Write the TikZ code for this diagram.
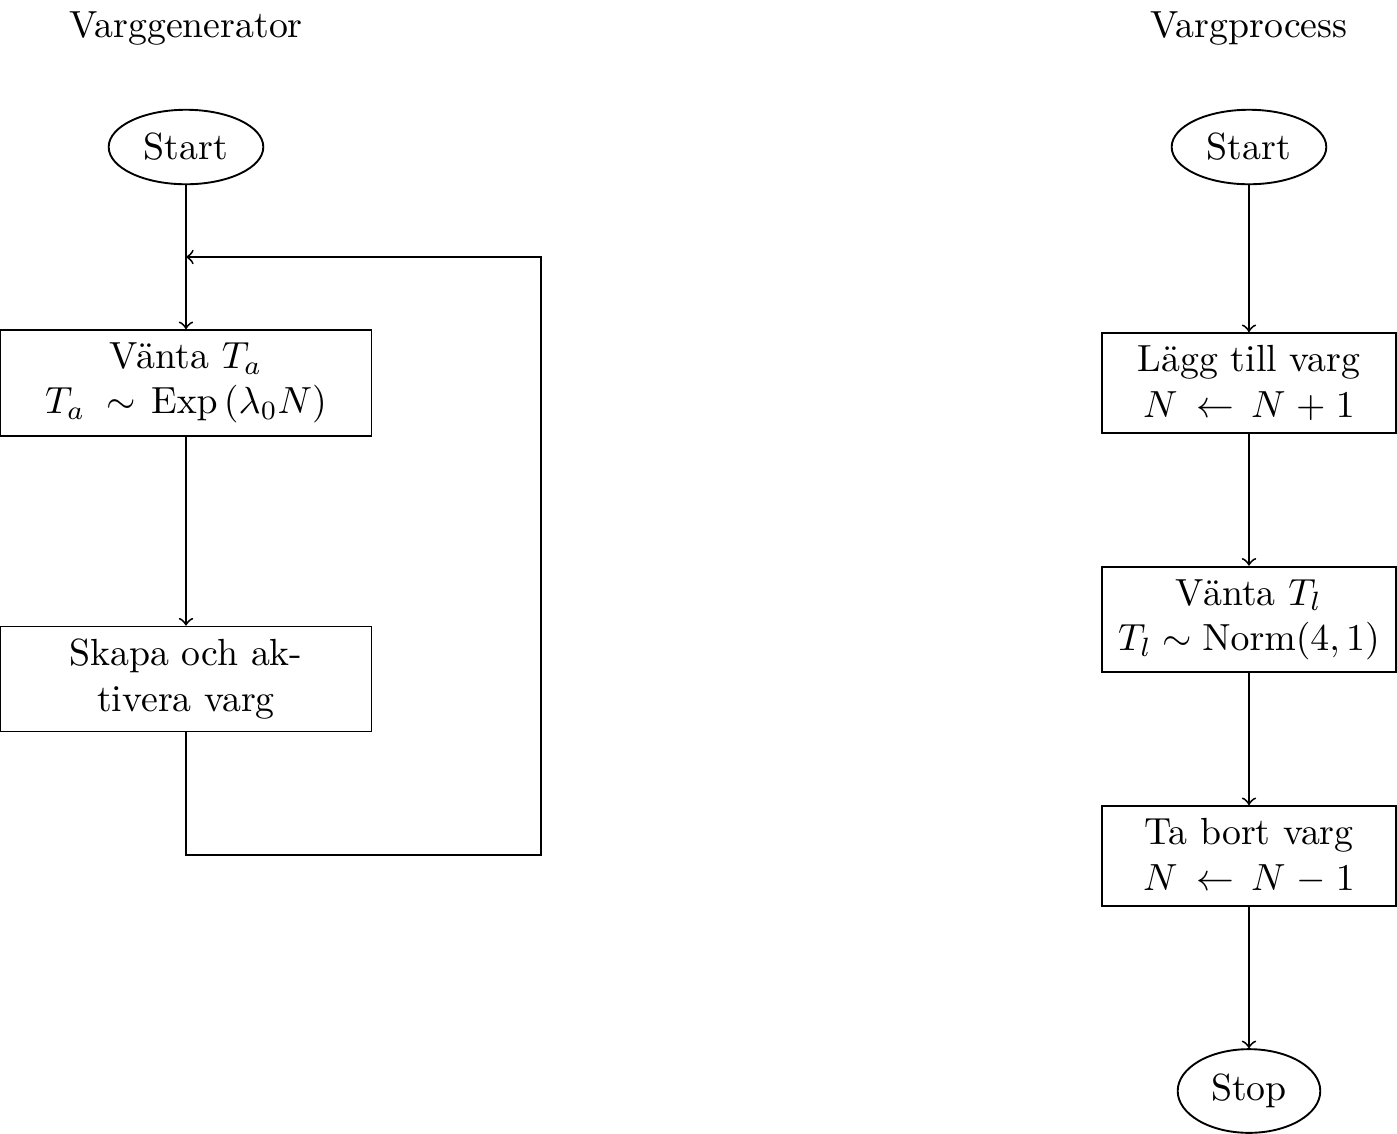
\documentclass[tikz,border=0pt]{standalone}
\usepackage{amsmath}
\usetikzlibrary{shapes.geometric}
\begin{document}
\begin{tikzpicture}[x=0.26455pt,y=-0.26455pt,
  terminal/.style={draw,ellipse,line width=0.5pt},
  procbox/.style={draw,rectangle,align=center,line width=0.5pt},
  widebox/.style={procbox,text width=91.5pt},
  narrowbox/.style={procbox,minimum width=77.8pt},
  title/.style={anchor=base},
  flow/.style={->,line width=0.5pt}]
\useasboundingbox (0,0) rectangle (1397,1134);
% left column
\node[title] (tl) at (186,37) {Varggenerator};
\node[terminal] (s1) at (186,147) {Start};
\node[widebox] (w1) at (186,383) {V\"anta $T_a$\\ $T_a\,\sim \operatorname{Exp}\left(\lambda_0 N\right)$};
\node[widebox] (c1) at (186,679) {Skapa och ak-\\ tivera varg};
\coordinate (j1) at (186,257);
\coordinate (b1) at (186,855);
\coordinate (b2) at (541,855);
\coordinate (b3) at (541,257);
\draw[flow] (s1) -- (w1);
\draw[flow] (w1) -- (c1);
\draw[flow] (c1.south) -- (b1) -- (b2) -- (b3) -- (j1);
% right column
\node[title] (tr) at (1249,37) {Vargprocess};
\node[terminal] (s2) at (1249,147) {Start};
\node[narrowbox] (a2) at (1249,383) {L\"agg till varg\\ $N \mskip4mu\leftarrow\mskip3mu N \mskip1mu+\mskip1mu 1$};
\node[narrowbox] (w2) at (1249,619.5) {V\"anta $T_l$\\ $T_l \sim \mathrm{Norm}(4,1)$};
\node[narrowbox] (r2) at (1249,856) {Ta bort varg\\ $N \mskip4mu\leftarrow\mskip3mu N \mskip1mu-\mskip1mu 1$};
\node[terminal] (e2) at (1249,1091) {Stop};
\draw[flow] (s2) -- (a2);
\draw[flow] (a2) -- (w2);
\draw[flow] (w2) -- (r2);
\draw[flow] (r2) -- (e2);
\end{tikzpicture}
\end{document}
